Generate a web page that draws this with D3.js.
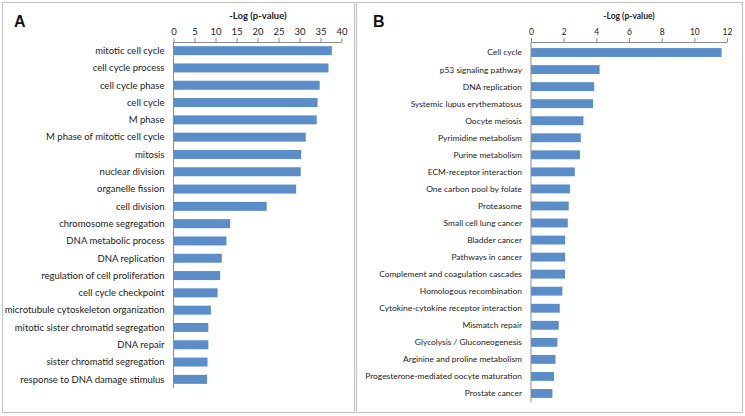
<!DOCTYPE html>
<html><head><meta charset="utf-8">
<script src="https://cdn.jsdelivr.net/npm/d3@7"></script>
<style>
html,body{margin:0;padding:0;background:#fff;}
svg{display:block;}
</style></head>
<body>
<svg id="chart" width="745" height="416"></svg>
<script>
const categoriesA = ["mitotic cell cycle","cell cycle process","cell cycle phase","cell cycle","M phase","M phase of mitotic cell cycle","mitosis","nuclear division","organelle fission","cell division","chromosome segregation","DNA metabolic process","DNA replication","regulation of cell proliferation","cell cycle checkpoint","microtubule cytoskeleton organization","mitotic sister chromatid segregation","DNA repair","sister chromatid segregation","response to DNA damage stimulus"];
const valuesA = [37.7,36.9,34.8,34.3,34.1,31.5,30.4,30.3,29.2,22.2,13.5,12.6,11.5,11.1,10.5,8.9,8.3,8.3,8.1,8.0];
const ticksA = [0,5,10,15,20,25,30,35,40];

const categoriesB = ["Cell cycle","p53 signaling pathway","DNA replication","Systemic lupus erythematosus","Oocyte meiosis","Pyrimidine metabolism","Purine metabolism","ECM-receptor interaction","One carbon pool by folate","Proteasome","Small cell lung cancer","Bladder cancer","Pathways in cancer","Complement and coagulation cascades","Homologous recombination","Cytokine-cytokine receptor interaction","Mismatch repair","Glycolysis / Gluconeogenesis","Arginine and proline metabolism","Progesterone-mediated oocyte maturation","Prostate cancer"];
const valuesB = [11.67,4.2,3.87,3.8,3.21,3.05,3.0,2.68,2.39,2.31,2.25,2.09,2.09,2.09,1.92,1.76,1.7,1.62,1.5,1.41,1.31];
const ticksB = [0,2,4,6,8,10,12];

const axisTitle = "-Log (p-value)";
const FONT = "Lato, 'Open Sans', sans-serif";
const BAR = "#5b8ec9";
const AXC = "#8c8c8c";

const svg = d3.select("#chart");

function panel(cfg){
  const g = svg.append("g");
  g.append("rect").attr("x",cfg.frame[0]+0.5).attr("y",cfg.frame[1]+0.5)
    .attr("width",cfg.frame[2]).attr("height",cfg.frame[3])
    .attr("fill","#fff").attr("stroke","#c4c4c4").attr("stroke-width",1.2);
  g.append("text").attr("x",cfg.letterX).attr("y",27).text(cfg.letter)
    .attr("font-family","Arial, 'Liberation Sans', sans-serif").attr("font-weight","bold").attr("font-size",16).attr("fill","#111");

  const x = d3.scaleLinear().domain([cfg.ticks[0], cfg.ticks[cfg.ticks.length-1]]).range(cfg.xr);
  const y = d3.scaleBand().domain(cfg.cats).range(cfg.yr).paddingInner(0.48).paddingOuter(0.24);

  g.selectAll("rect.bar").data(cfg.cats).join("rect").attr("class","bar")
    .attr("x",x(0)).attr("y",d=>y(d)).attr("height",y.bandwidth())
    .attr("width",(d,i)=>x(cfg.vals[i])-x(0)).attr("fill",BAR);

  const ax = g.append("g").attr("transform",`translate(0,${cfg.axisY})`)
    .call(d3.axisTop(x).tickValues(cfg.ticks).tickSize(4).tickSizeOuter(0).tickPadding(3));
  ax.select(".domain").attr("stroke",AXC);
  ax.selectAll(".tick line").attr("stroke",AXC);
  ax.selectAll(".tick text").attr("font-family",FONT).attr("font-size",cfg.tickFs).attr("fill","#222");

  g.append("line").attr("x1",x(0)).attr("x2",x(0)).attr("y1",cfg.axisY).attr("y2",cfg.yr[1])
    .attr("stroke",AXC);

  const labs = g.selectAll("text.cat").data(cfg.cats).join("text").attr("class","cat")
    .attr("x",x(0)-9).attr("y",d=>y(d)+y.bandwidth()/2).attr("dy","0.35em")
    .attr("text-anchor","end").attr("font-family",FONT).attr("font-size",10).attr("fill","#222")
    .text(d=>d);
  // fit font size so the longest label spans the reference width
  let maxW = 0;
  labs.each(function(){ maxW = Math.max(maxW, this.getComputedTextLength()); });
  const fs = Math.min(11, 10 * cfg.labW / maxW);
  labs.attr("font-size", fs.toFixed(2));

  g.append("text").attr("x",cfg.titleX).attr("y",19).attr("text-anchor","middle")
    .attr("font-family",FONT).attr("font-weight","bold").attr("font-size",cfg.titleFs).attr("fill","#222")
    .text(axisTitle);
}

panel({frame:[2,2,352,410], letter:"A", letterX:14, cats:categoriesA, vals:valuesA, ticks:ticksA,
  xr:[173.5,341.5], yr:[42,388], axisY:42, tickFs:9.5, labW:160, titleFs:9.5, titleX:258});
panel({frame:[356,2,386,410], letter:"B", letterX:373, cats:categoriesB, vals:valuesB, ticks:ticksB,
  xr:[531,727], yr:[44,402], axisY:42, tickFs:8.5, labW:157, titleFs:8.5, titleX:629});
</script>
</body></html>
